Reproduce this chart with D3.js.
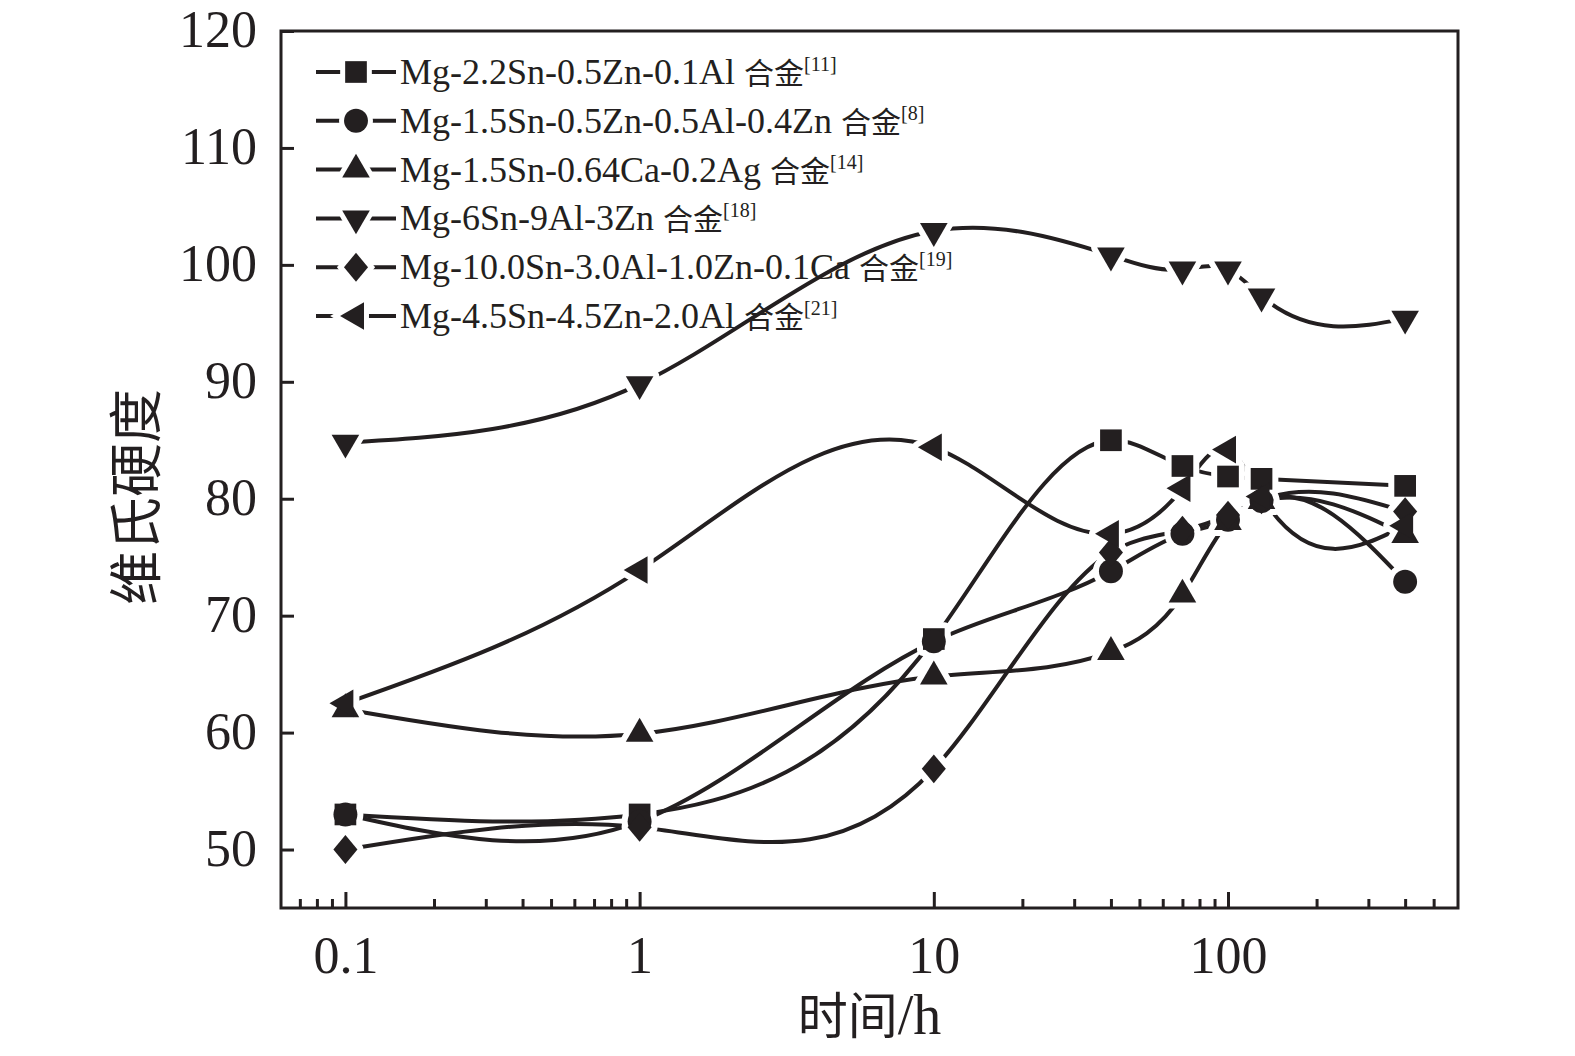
<!DOCTYPE html>
<html>
<head>
<meta charset="utf-8">
<script src="https://cdn.jsdelivr.net/npm/d3@7"></script>
<style>
  body { margin: 0; background: #ffffff; }
  svg { display: block; }
</style>
</head>
<body>
<div id="chart"></div>
<script>
// aging time (h) and hardness values
const times = [0.1, 1, 10, 40, 70, 100, 130, 400];
const hv_22sn = [53, 53, 68, 85, 82.8, 81.9, 81.7, 81.1];
const hv_15sn_al = [53, 52.4, 67.8, 73.8, 77, 78.2, 79.8, 72.9];
const hv_15sn_ca = [62, 59.9, 64.8, 66.9, 71.8, 78, 79.8, 76.9];
const hv_6sn = [84.8, 89.8, 102.9, 100.8, 99.6, 99.6, 97.3, 95.4];
const hv_10sn = [50, 51.9, 56.9, 75.4, 77.3, 78.6, 79.9, 78.9];
const hv_45sn = [62.5, 73.9, 84.4, 77, 80.9, 84.2, 80.2, 77.7];

const alloy_names = [
  "Mg-2.2Sn-0.5Zn-0.1Al",
  "Mg-1.5Sn-0.5Zn-0.5Al-0.4Zn",
  "Mg-1.5Sn-0.64Ca-0.2Ag",
  "Mg-6Sn-9Al-3Zn",
  "Mg-10.0Sn-3.0Al-1.0Zn-0.1Ca",
  "Mg-4.5Sn-4.5Zn-2.0Al"
];
const alloy_refs = ["[11]", "[8]", "[14]", "[18]", "[19]", "[21]"];

const x_major = [0.1, 1, 10, 100];
const x_minor = [0.07, 0.08, 0.09, 0.2, 0.3, 0.4, 0.5, 0.6, 0.7, 0.8, 0.9,
                 20, 30, 40, 50, 60, 70, 80, 90, 200, 300, 400, 500];
const y_ticks = [50, 60, 70, 80, 90, 100, 110, 120];

const ink = "#231f20";
const serif = "'Liberation Serif', 'Times New Roman', serif";
const cjk = "'Noto Sans CJK SC', sans-serif";

const series = [hv_22sn, hv_15sn_al, hv_15sn_ca, hv_6sn, hv_10sn, hv_45sn].map(function(vals, i) {
  return {
    name: alloy_names[i],
    ref: alloy_refs[i],
    points: vals.map(function(v, j) { return { t: times[j], hv: v }; })
  };
});

// marker shapes, one per series (diamond = square turned 45deg, a bit taller)
const markers = [
  { type: d3.symbolSquare, size: 470, shape: "" },
  { type: d3.symbolCircle, size: 450, shape: "" },
  { type: d3.symbolTriangle, size: 330, shape: "" },
  { type: d3.symbolTriangle, size: 330, shape: "rotate(180)" },
  { type: d3.symbolSquare, size: 290, shape: "scale(1,1.2) rotate(45)" },
  { type: d3.symbolTriangle, size: 330, shape: "rotate(-90)" }
];

// natural cubic spline y(x) on screen points, emitted as bezier pieces
// (like the "spline" connector of the plotting program the figure came from)
function curveSplineX(context) {
  let px, py;
  return {
    areaStart: function() {},
    areaEnd: function() {},
    lineStart: function() { px = []; py = []; },
    point: function(a, b) { px.push(+a); py.push(+b); },
    lineEnd: function() {
      const n = px.length;
      if (!n) return;
      context.moveTo(px[0], py[0]);
      if (n < 3) {
        if (n === 2) context.lineTo(px[1], py[1]);
        return;
      }
      const h = [], M = new Array(n).fill(0);
      for (let i = 0; i < n - 1; i++) h.push(px[i + 1] - px[i]);
      // tridiagonal solve for second derivatives, natural ends
      const a = [], b = [], c = [], r = [];
      for (let i = 1; i < n - 1; i++) {
        a.push(h[i - 1]);
        b.push(2 * (h[i - 1] + h[i]));
        c.push(h[i]);
        r.push(6 * ((py[i + 1] - py[i]) / h[i] - (py[i] - py[i - 1]) / h[i - 1]));
      }
      const m = r.length;
      for (let i = 1; i < m; i++) {
        const w = a[i] / b[i - 1];
        b[i] -= w * c[i - 1];
        r[i] -= w * r[i - 1];
      }
      M[m] = r[m - 1] / b[m - 1];
      for (let i = m - 2; i >= 0; i--) M[i + 1] = (r[i] - c[i] * M[i + 2]) / b[i];
      for (let i = 0; i < n - 1; i++) {
        const s = (py[i + 1] - py[i]) / h[i];
        const d0 = s - h[i] * (2 * M[i] + M[i + 1]) / 6;
        const d1 = s + h[i] * (M[i] + 2 * M[i + 1]) / 6;
        context.bezierCurveTo(
          px[i] + h[i] / 3, py[i] + d0 * h[i] / 3,
          px[i + 1] - h[i] / 3, py[i + 1] - d1 * h[i] / 3,
          px[i + 1], py[i + 1]);
      }
    }
  };
}

const W = 1575, H = 1056;
const plot = { left: 281, right: 1458, top: 31, bottom: 908 };

const svg = d3.select("#chart").append("svg")
    .attr("width", W)
    .attr("height", H);

const x = d3.scaleLog()
    .domain([0.0604, 605])
    .range([plot.left, plot.right]);
const y = d3.scaleLinear()
    .domain([45, 120])
    .range([plot.bottom, plot.top]);

// x axis: major and minor ticks pointing inward
const xMajor = svg.append("g")
    .attr("transform", "translate(0," + plot.bottom + ")")
    .call(d3.axisBottom(x).tickValues(x_major).tickSize(-16).tickPadding(28)
      .tickFormat(function(d) { return d < 1 ? "0.1" : d3.format("d")(d); }));
const xMinor = svg.append("g")
    .attr("transform", "translate(0," + plot.bottom + ")")
    .call(d3.axisBottom(x).tickValues(x_minor).tickSize(-9).tickFormat(""));

const yAxis = svg.append("g")
    .attr("transform", "translate(" + plot.left + ",0)")
    .call(d3.axisLeft(y).tickValues(y_ticks).tickSize(-13).tickPadding(24));

[xMajor, xMinor, yAxis].forEach(function(g) {
  g.select(".domain").remove();
  g.selectAll(".tick line").attr("stroke", ink).attr("stroke-width", 3);
  g.selectAll(".tick text")
    .attr("fill", ink)
    .attr("font-family", serif)
    .attr("font-size", 52);
});
xMajor.selectAll(".tick text").attr("dy", "0.72em");
yAxis.selectAll(".tick text").attr("dy", "0.3em");

// frame
svg.append("rect")
    .attr("x", plot.left)
    .attr("y", plot.top)
    .attr("width", plot.right - plot.left)
    .attr("height", plot.bottom - plot.top)
    .attr("fill", "none")
    .attr("stroke", ink)
    .attr("stroke-width", 3);

// curves
const line = d3.line()
    .x(function(d) { return x(d.t); })
    .y(function(d) { return y(d.hv); })
    .curve(curveSplineX);

svg.append("g").selectAll("path")
    .data(series)
  .enter().append("path")
    .attr("d", function(d) { return line(d.points); })
    .attr("fill", "none")
    .attr("stroke", ink)
    .attr("stroke-width", 4);

function markerPath(i) {
  return d3.symbol().type(markers[i].type).size(markers[i].size)();
}

// white halo first so the lines stop short of each symbol
const allPoints = [];
series.forEach(function(s, i) {
  s.points.forEach(function(p) { allPoints.push({ i: i, t: p.t, hv: p.hv }); });
});

function place(d) {
  return "translate(" + x(d.t) + "," + y(d.hv) + ") " + markers[d.i].shape;
}

svg.append("g").selectAll("path")
    .data(allPoints)
  .enter().append("path")
    .attr("d", function(d) { return markerPath(d.i); })
    .attr("transform", place)
    .attr("fill", "#ffffff")
    .attr("stroke", "#ffffff")
    .attr("stroke-width", 12)
    .attr("stroke-linejoin", "round");

svg.append("g").selectAll("path")
    .data(allPoints)
  .enter().append("path")
    .attr("d", function(d) { return markerPath(d.i); })
    .attr("transform", place)
    .attr("fill", ink);

// legend
const legend = svg.append("g").selectAll("g")
    .data(series)
  .enter().append("g")
    .attr("transform", function(d, i) { return "translate(0," + (72 + i * 48.8) + ")"; });

legend.append("line")
    .attr("x1", 316).attr("x2", 396)
    .attr("y1", 0).attr("y2", 0)
    .attr("stroke", ink)
    .attr("stroke-width", 4);

legend.append("path")
    .attr("d", function(d, i) { return markerPath(i); })
    .attr("transform", function(d, i) { return "translate(356,0) " + markers[i].shape; })
    .attr("fill", ink)
    .attr("stroke", "#ffffff")
    .attr("stroke-width", 10)
    .attr("paint-order", "stroke");

const label = legend.append("text")
    .attr("x", 400)
    .attr("y", 12)
    .attr("fill", ink)
    .attr("font-family", serif)
    .attr("font-size", 36);
label.append("tspan").text(function(d) { return d.name + " "; });
label.append("tspan")
    .attr("font-family", cjk)
    .attr("font-size", 30)
    .text("合金");
label.append("tspan")
    .attr("font-size", 20)
    .attr("dy", -13)
    .text(function(d) { return d.ref; });

// axis titles
svg.append("text")
    .attr("x", (plot.left + plot.right) / 2)
    .attr("y", 1034)
    .attr("text-anchor", "middle")
    .attr("fill", ink)
    .attr("font-size", 50)
    .html("<tspan font-family=\"" + cjk + "\">时间</tspan><tspan font-family=\"" + serif + "\" font-size=\"56\">/h</tspan>");

svg.append("text")
    .attr("transform", "translate(156,497) rotate(-90)")
    .attr("text-anchor", "middle")
    .attr("fill", ink)
    .attr("font-family", cjk)
    .attr("font-size", 54)
    .text("维氏硬度");
</script>
</body>
</html>
